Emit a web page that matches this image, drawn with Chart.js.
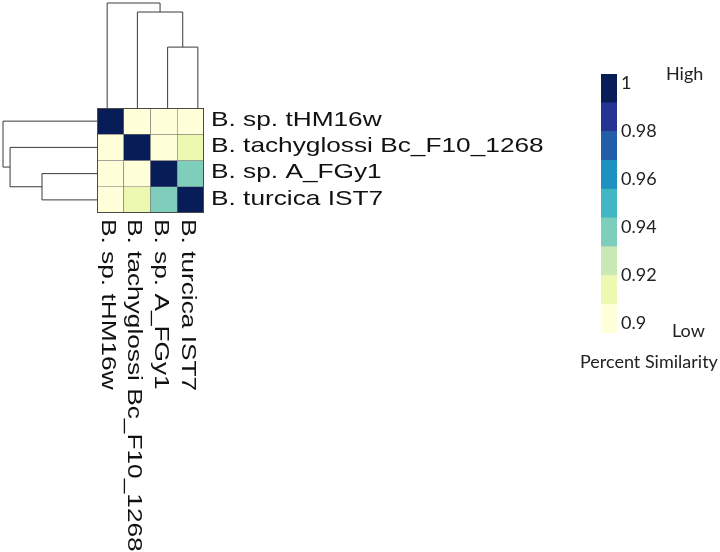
<!DOCTYPE html>
<html>
<head>
<meta charset="utf-8">
<script src="https://cdn.jsdelivr.net/npm/chart.js@4.4.1/dist/chart.umd.min.js"></script>
<style>
  html, body { margin: 0; padding: 0; background: #fff; }
  #wrap { position: relative; width: 720px; height: 552px; overflow: hidden; }
  #heat { position: absolute; left: 0; top: 0; }
  #bar { position: absolute; left: 560px; top: 0; }
</style>
</head>
<body>
<div id="wrap">
  <canvas id="heat" width="720" height="552"></canvas>
  <canvas id="bar" width="160" height="400"></canvas>
</div>
<script>
// strains, same order for rows (top to bottom) and columns (left to right)
const strains = ['B. sp. tHM16w', 'B. tachyglossi Bc_F10_1268', 'B. sp. A_FGy1', 'B. turcica IST7']

// percent similarity, one list per row
const simTHM16w = [1, 0.9, 0.9, 0.9]
const simTachyglossi = [0.9, 1, 0.9, 0.912]
const simAFGy1 = [0.9, 0.9, 1, 0.94]
const simTurcica = [0.9, 0.912, 0.94, 1]
const similarity = [simTHM16w, simTachyglossi, simAFGy1, simTurcica]

// dendrograms: [left, right, height], ids >= 4 are earlier merges
const rowMerges = [[2, 3, 0.585], [1, 4, 0.925], [0, 5, 1]]
const colMerges = [[2, 3, 0.58], [1, 4, 0.914], [0, 5, 1]]

// colour key
const colorBreaks = [0.896, 0.908, 0.92, 0.932, 0.944, 0.956, 0.968, 0.98, 0.992, 1.004]
const keyTicks = [0.9, 0.92, 0.94, 0.96, 0.98, 1]
const palette = ['#ffffd9', '#edf8b1', '#c7e9b4', '#7fcdbb', '#41b6c4', '#1d91c0', '#225ea8', '#253494', '#081d58']

const labelFont = '21px "Liberation Sans", Arial, sans-serif'
const labelStretch = 1.25 // the strain names are drawn a bit wide in the original
const topTreeSpread = 1.13 // the column tree is a bit wider than the cells
const keyFont = { family: 'Lato, "Open Sans", sans-serif', size: 18 }

colorFor = (v) => {
  for (let i = 0; i < palette.length; i++) {
    if (v < colorBreaks[i + 1]) return palette[i]
  }
  return palette[palette.length - 1]
}

// draws a dendrogram, leafPos = pixel of each leaf along the leaf axis
drawTree = (ctx, merges, leafPos, edge, span, vertical) => {
  const maxH = Math.max(...merges.map(m => m[2]))
  const nodes = leafPos.map(p => ({ p: p, h: edge }))
  const pt = (p, h) => vertical ? [p, h] : [h, p]
  ctx.beginPath()
  merges.forEach(([a, b, h]) => {
    const hp = edge - h / maxH * span
    const A = nodes[a], B = nodes[b]
    ctx.moveTo(...pt(A.p, A.h))
    ctx.lineTo(...pt(A.p, hp))
    ctx.lineTo(...pt(B.p, hp))
    ctx.lineTo(...pt(B.p, B.h))
    nodes.push({ p: (A.p + B.p) / 2, h: hp })
  })
  ctx.stroke()
}

const heatDecor = {
  id: 'heatDecor',
  afterDraw(chart) {
    const { ctx, chartArea: area, scales: { x, y } } = chart
    ctx.save()
    ctx.strokeStyle = '#4a4a4a'
    ctx.lineWidth = 1
    ctx.strokeRect(area.left + 0.5, area.top + 0.5, area.width - 1, area.height - 1)

    const colPos = strains.map((s, i) => x.getPixelForValue(i))
    const rowPos = strains.map((s, i) => y.getPixelForValue(i + 0.5))
    const mid = (area.left + area.right) / 2
    const treePos = colPos.map(p => mid + 2 + (p - mid) * topTreeSpread)
    ctx.strokeStyle = '#3a3a3a'
    drawTree(ctx, colMerges, treePos, area.top, 105, true)
    drawTree(ctx, rowMerges, rowPos, area.left, 94, false)

    ctx.fillStyle = '#111'
    ctx.font = labelFont
    ctx.textBaseline = 'middle'
    ctx.textAlign = 'left'
    strains.forEach((s, i) => {
      ctx.save()
      ctx.translate(area.right + 7, rowPos[i] - 1)
      ctx.scale(labelStretch, 1)
      ctx.fillText(s, 0, 0)
      ctx.restore()
    })
    strains.forEach((s, i) => {
      ctx.save()
      ctx.translate(colPos[i] - 3, area.bottom + 6)
      ctx.rotate(Math.PI / 2)
      ctx.scale(labelStretch, 1)
      ctx.fillText(s, 0, 0)
      ctx.restore()
    })
    ctx.restore()
  }
}

new Chart(document.getElementById('heat'), {
  type: 'bar',
  data: {
    labels: strains,
    datasets: strains.map((name, r) => ({
      label: name,
      data: similarity[r].map(() => [r, r + 1]),
      backgroundColor: similarity[r].map(colorFor),
      borderColor: '#6e6e6e',
      borderWidth: 0.6,
      borderSkipped: false,
      barPercentage: 1,
      categoryPercentage: 1
    }))
  },
  options: {
    responsive: false,
    animation: false,
    layout: { padding: { left: 97, top: 108, right: 516, bottom: 339 } },
    plugins: { legend: { display: false }, tooltip: { enabled: false } },
    scales: {
      x: { type: 'category', stacked: true, display: false },
      y: { type: 'linear', min: 0, max: strains.length, reverse: true, display: false }
    }
  },
  plugins: [heatDecor]
})

const keyText = {
  id: 'keyText',
  afterDraw(chart) {
    const { ctx } = chart
    ctx.save()
    ctx.fillStyle = '#222'
    ctx.font = keyFont.size + 'px ' + keyFont.family
    ctx.textBaseline = 'middle'
    ctx.fillText('High', 106, 74)
    ctx.fillText('Low', 112, 331)
    ctx.fillText('Percent Similarity', 20, 362)
    ctx.restore()
  }
}

new Chart(document.getElementById('bar'), {
  type: 'bar',
  data: {
    labels: [''],
    datasets: palette.map((c, i) => ({
      data: [[colorBreaks[i], colorBreaks[i + 1]]],
      backgroundColor: c,
      borderWidth: 0,
      barPercentage: 1,
      categoryPercentage: 1
    }))
  },
  options: {
    responsive: false,
    animation: false,
    layout: { padding: { left: 41, top: 74, right: 43, bottom: 67 } },
    plugins: { legend: { display: false }, tooltip: { enabled: false } },
    scales: {
      x: { stacked: true, display: false },
      y: {
        position: 'right',
        min: colorBreaks[0],
        max: colorBreaks[colorBreaks.length - 1],
        afterBuildTicks: (s) => { s.ticks = keyTicks.map(v => ({ value: v })) },
        afterFit: (s) => { s.width = 60 },
        grid: { display: false, drawTicks: false },
        border: { display: false },
        ticks: { padding: 4, color: '#222', font: keyFont, callback: (v) => String(v) }
      }
    }
  },
  plugins: [keyText]
})
</script>
</body>
</html>
